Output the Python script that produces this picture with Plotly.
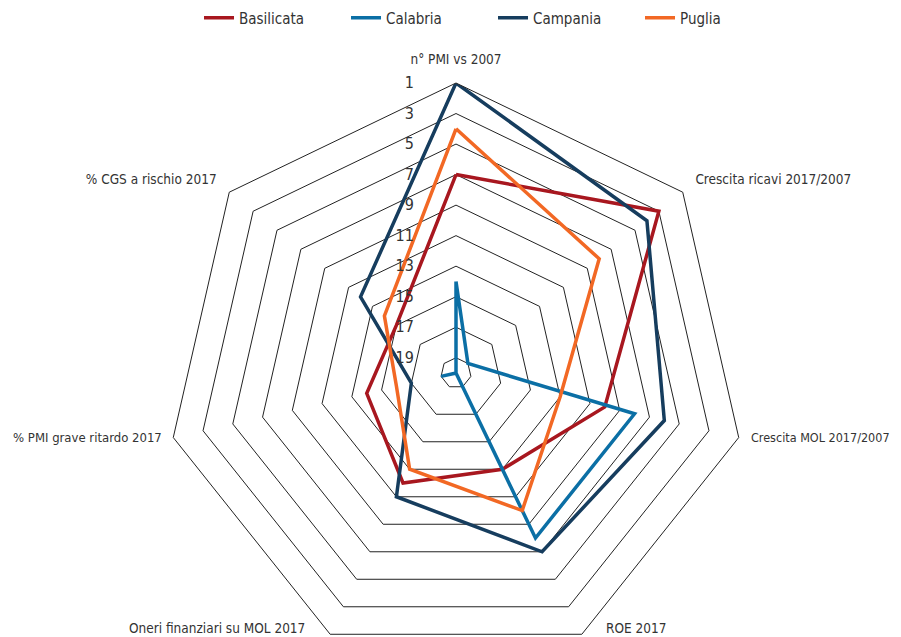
import plotly.graph_objects as go

categories = ["n° PMI vs 2007", "Crescita ricavi 2017/2007", "Crescita MOL 2017/2007",
              "ROE 2017", "Oneri finanziari su MOL 2017", "% PMI grave ritardo 2017",
              "% CGS a rischio 2017"]
basilicata = [7, 3, 10, 13, 12, 14, 15]
calabria = [14, 19, 8, 8, 20, 19, 20]
campania = [1, 4, 6, 7, 11, 17, 12]
puglia = [4, 8, 13, 10, 13, 16, 14]
tick_vals = [1, 3, 5, 7, 9, 11, 13, 15, 17, 19]
# axis labels that are written as annotations (they sit beside their vertices)
side_labels = ["Crescita MOL 2017/2007", "ROE 2017", "Oneri finanziari su MOL 2017",
               "% PMI grave ritardo 2017"]

series = [("Basilicata", basilicata, "#A8171F"),
          ("Calabria", calabria, "#0B6FA5"),
          ("Campania", campania, "#163D5E"),
          ("Puglia", puglia, "#F26824")]

FONT = "DejaVu Sans Condensed, Roboto Condensed, Liberation Sans Narrow, sans-serif"
TXT = "#333333"

fig = go.Figure()
for name, vals, col in series:
    fig.add_trace(go.Scatterpolar(
        r=vals + vals[:1], theta=categories + categories[:1], name=name,
        mode="lines", line=dict(color=col, width=3.5)))

W, H = 901, 680
OFF = 8  # page body margin
cx, cy, R = 448, 365, 290
tick_text = ["" if c in side_labels else c for c in categories]

def px(x):
    return (x - OFF) / W

def py(y):
    return 1 - (y - OFF) / H

label_pos = [  # (x, y, xanchor, size) in screen px
    (749, 437, "left", 12.5),
    (604, 628, "left", 13.5),
    (307, 628, "right", 13.5),
    (164, 437, "right", 13),
]
annotations = [
    dict(text=t, xref="paper", yref="paper", x=px(x), y=py(y), xanchor=xa, yanchor="middle",
         showarrow=False, font=dict(size=s, color=TXT))
    for t, (x, y, xa, s) in zip(side_labels, label_pos)
]

fig.update_layout(
    width=W, height=H,
    margin=dict(l=0, r=0, t=0, b=0, autoexpand=False),
    paper_bgcolor="white", plot_bgcolor="white",
    font=dict(family=FONT, size=15, color=TXT),
    showlegend=True,
    legend=dict(orientation="h", x=0.212, y=1 - 10 / H, xanchor="left", yanchor="middle",
                entrywidth=102, font=dict(size=15)),
    polar=dict(
        domain=dict(x=[(cx - R) / W, (cx + R) / W], y=[(H - cy - R) / H, (H - cy + R) / H]),
        gridshape="linear",
        bgcolor="white",
        radialaxis=dict(range=[20, 1], tickvals=tick_vals, angle=90, side="counterclockwise",
                        tickangle=90,
                        showline=False, gridcolor="#222222", gridwidth=1,
                        ticks="outside", ticklen=36, tickcolor="rgba(0,0,0,0)",
                        tickfont=dict(size=16, color=TXT)),
        angularaxis=dict(direction="clockwise", rotation=90, showgrid=False,
                         tickmode="array", tickvals=categories, ticktext=tick_text,
                         showline=True, linecolor="#222222", linewidth=1,
                         ticks="outside", ticklen=13, tickcolor="rgba(0,0,0,0)",
                         tickfont=dict(size=13.5, color=TXT)),
    ),
    annotations=annotations,
)
fig.write_html("out.html")
